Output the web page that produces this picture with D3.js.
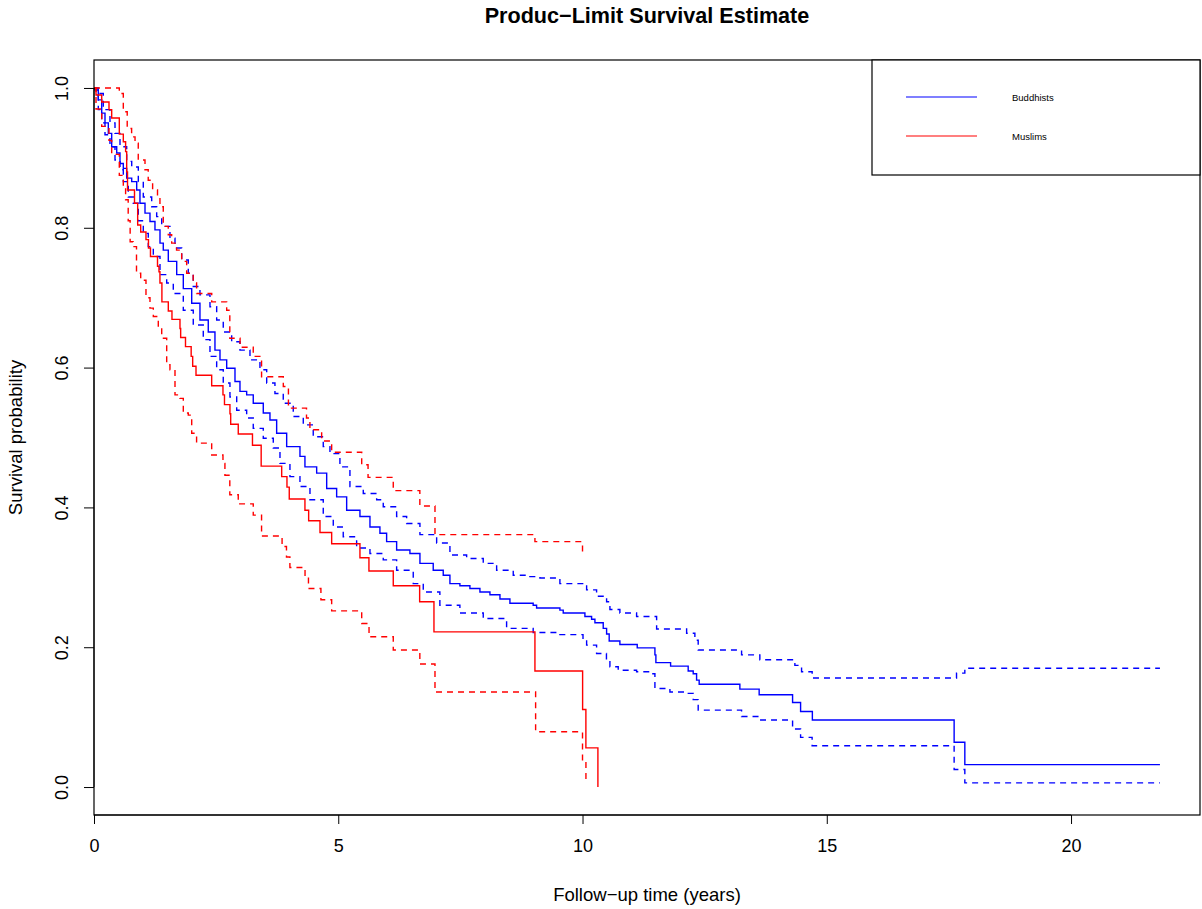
<!DOCTYPE html>
<html>
<head>
<meta charset="utf-8">
<script src="https://cdnjs.cloudflare.com/ajax/libs/d3/7.8.5/d3.min.js"></script>
<style>
  body { margin: 0; background: #fff; }
  text { font-family: "Liberation Sans", Arial, Helvetica, sans-serif; fill: #000; }
</style>
</head>
<body>
<svg class="km_svg" width="1202" height="909"></svg>
<script>
// Buddhists: Kaplan-Meier estimate + 95% limits (time in years)
var budTime = [0, 0.02, 0.088, 0.158, 0.225, 0.293, 0.362, 0.465, 0.532, 0.600,
  0.669, 0.772, 0.874, 0.941, 1.044, 1.146, 1.248, 1.351, 1.418, 1.521,
  1.693, 1.828, 2.0, 2.169, 2.339, 2.476, 2.579, 2.716, 2.886, 2.988,
  3.125, 3.26, 3.465, 3.602, 3.739, 3.944, 4.216, 4.318, 4.558, 4.763,
  4.967, 5.172, 5.444, 5.649, 5.853, 5.99, 6.195, 6.467, 6.672, 6.944,
  7.149, 7.286, 7.49, 7.695, 7.9, 8.105, 8.31, 8.514, 8.99, 9.06,
  9.537, 9.605, 10.049, 10.186, 10.254, 10.424, 10.493, 10.546, 10.765, 11.12,
  11.482, 11.502, 11.803, 12.163, 12.266, 12.335, 12.388, 13.221, 13.616, 14.3,
  14.464, 14.705, 17.607, 17.826, 21.82];
var budSurv = [1, .997, .983, .964, .950, .935, .916, .907, .892, .885,
  .871, .866, .854, .835, .821, .809, .797, .778, .768, .752,
  .733, .713, .692, .668, .651, .625, .611, .599, .580, .566,
  .561, .549, .535, .525, .506, .487, .473, .458, .449, .427,
  .415, .396, .387, .372, .363, .351, .339, .334, .320, .310,
  .303, .291, .288, .284, .279, .275, .269, .263, .260, .256,
  .253, .249, .244, .240, .235, .227, .219, .209, .204, .199,
  .189, .178, .173, .166, .162, .153, .147, .140, .132, .121,
  .108, .096, .064, .032, .032];

var budUpTime = [0, 0.055, 0.19, 0.327, 0.43, 0.532, 0.669, 0.772, 0.907, 1.009,
  1.181, 1.283, 1.386, 1.555, 1.658, 1.795, 1.93, 2.032, 2.169, 2.374,
  2.511, 2.646, 2.818, 2.988, 3.193, 3.397, 3.535, 3.704, 3.874, 4.079,
  4.284, 4.488, 4.693, 4.83, 5.034, 5.239, 5.512, 5.786, 5.921, 6.195,
  6.4, 6.672, 7.014, 7.286, 7.628, 7.968, 8.242, 8.582, 8.923, 9.128,
  9.537, 10.084, 10.288, 10.493, 10.561, 10.765, 11.107, 11.517, 12.131, 12.3,
  12.368, 13.256, 13.63, 14.347, 14.484, 14.701, 17.656, 17.826, 21.82];
var budUp = [1, .992, .969, .950, .935, .916, .895, .887, .866, .844,
  .830, .816, .802, .785, .771, .754, .735, .716, .704, .687,
  .668, .651, .637, .625, .611, .597, .578, .563, .549, .530,
  .518, .501, .487, .477, .458, .430, .420, .411, .401, .387,
  .377, .361, .349, .332, .327, .320, .310, .303, .301, .299,
  .291, .282, .273, .265, .254, .249, .244, .226, .220, .210,
  .196, .189, .182, .174, .165, .156, .163, .170, .170];

var budLoTime = [0, 0.088, 0.158, 0.225, 0.327, 0.43, 0.532, 0.6, 0.702, 0.804,
  0.907, 1.009, 1.111, 1.214, 1.351, 1.488, 1.623, 1.828, 2.032, 2.237,
  2.374, 2.511, 2.646, 2.783, 2.921, 3.125, 3.26, 3.465, 3.67, 3.807,
  4.011, 4.216, 4.421, 4.693, 4.898, 5.102, 5.376, 5.649, 5.921, 6.195,
  6.535, 6.74, 7.08, 7.49, 7.968, 8.446, 8.99, 9.537, 10.01, 10.084,
  10.288, 10.49, 10.561, 10.731, 11.107, 11.414, 11.482, 11.789, 12.095, 12.266,
  12.368, 13.256, 13.63, 14.3, 14.464, 14.7, 17.607, 17.826, 21.82];
var budLo = [1, .969, .950, .933, .916, .897, .883, .866, .844, .835,
  .810, .792, .773, .759, .733, .721, .706, .682, .661, .640,
  .616, .597, .578, .558, .539, .528, .513, .499, .485, .463,
  .444, .430, .411, .387, .372, .358, .342, .334, .325, .310,
  .291, .279, .260, .249, .241, .227, .221, .218, .211, .203,
  .191, .182, .172, .167, .165, .162, .141, .136, .134, .125,
  .110, .101, .096, .083, .071, .059, .025, .006, .006];

// Muslims
var musTime = [0, 0.041, 0.158, 0.307, 0.362, 0.518, 0.600, 0.647, 0.669, 0.686,
  0.829, 0.894, 0.956, 1.064, 1.115, 1.156, 1.30, 1.33, 1.35, 1.39,
  1.521, 1.596, 1.760, 1.774, 1.873, 1.989, 2.020, 2.088, 2.409, 2.640,
  2.671, 2.783, 2.798, 2.953, 3.244, 3.422, 3.842, 3.950, 3.997, 4.318,
  4.394, 4.626, 4.865, 5.444, 5.628, 6.126, 6.666, 6.959, 9.026, 10.002,
  10.069, 10.315];
var musSurv = [1, .990, .980, .969, .957, .934, .923, .909, .880, .854,
  .835, .804, .794, .783, .771, .759, .745, .737, .721, .694,
  .681, .669, .656, .643, .630, .616, .602, .589, .574, .561,
  .547, .534, .519, .505, .489, .459, .444, .429, .412, .396,
  .381, .364, .348, .328, .309, .288, .265, .222, .166, .111,
  .056, 0];

var musUpTime = [0, 0.518, 0.600, 0.68, 0.77, 0.84, 0.906, 1.044, 1.11, 1.20,
  1.30, 1.35, 1.418, 1.52, 1.59, 1.69, 1.795, 1.897, 1.965, 2.03,
  2.10, 2.41, 2.716, 2.78, 2.99, 3.26, 3.43, 3.875, 3.98, 4.35,
  4.42, 4.66, 4.865, 5.48, 5.61, 6.126, 6.67, 6.98, 9.026, 10.0];
var musUp = [1, .992, .966, .942, .930, .921, .897, .883, .868, .854,
  .845, .830, .802, .790, .778, .768, .752, .735, .733, .721,
  .706, .694, .682, .642, .629, .616, .587, .573, .542, .528,
  .511, .495, .479, .461, .443, .424, .402, .361, .351, .330];

var musLoTime = [0, 0.041, 0.158, 0.307, 0.362, 0.518, 0.600, 0.647, 0.70, 0.74,
  0.80, 0.87, 0.956, 1.064, 1.146, 1.214, 1.316, 1.386, 1.488, 1.555,
  1.658, 1.76, 1.828, 1.93, 2.0, 2.1, 2.409, 2.64, 2.68, 2.78,
  2.953, 3.26, 3.43, 3.85, 3.94, 4.01, 4.32, 4.39, 4.645, 4.865,
  5.48, 5.63, 6.126, 6.67, 6.98, 9.04, 10.0, 10.07];
var musLo = [1, .970, .945, .925, .905, .875, .860, .840, .810, .780,
  .773, .735, .725, .700, .685, .673, .658, .642, .604, .597,
  .561, .556, .535, .532, .506, .492, .475, .463, .446, .418,
  .405, .389, .359, .344, .329, .314, .301, .284, .268, .252,
  .234, .215, .196, .176, .136, .079, .036, .008];

var xTicks = [0, 5, 10, 15, 20];
var yTicks = [0, 0.2, 0.4, 0.6, 0.8, 1.0];
var groups = ["Buddhists", "Muslims"];
var colours = ["#0000ff", "#ff0000"];

var svg = d3.select(".km_svg"),
    box = {left: 94, top: 60, right: 1200, bottom: 815};

var x = d3.scaleLinear().domain([0, 22.64]).range([box.left, box.right]);
var y = d3.scaleLinear().domain([-0.04, 1.04]).range([box.bottom, box.top]);

function zip(t, s) {
  return t.map(function(d, i) { return [d, s[i]]; });
}

var step = d3.line()
    .x(function(d) { return x(d[0]); })
    .y(function(d) { return y(d[1]); })
    .curve(d3.curveStepAfter);

var curves = [
  {pts: zip(budUpTime, budUp), col: colours[0], dash: true},
  {pts: zip(budLoTime, budLo), col: colours[0], dash: true},
  {pts: zip(budTime, budSurv), col: colours[0], dash: false},
  {pts: zip(musUpTime, musUp), col: colours[1], dash: true},
  {pts: zip(musLoTime, musLo), col: colours[1], dash: true},
  {pts: zip(musTime, musSurv), col: colours[1], dash: false}
];

svg.append("g")
  .attr("class", "curves")
  .selectAll("path")
  .data(curves)
  .enter().append("path")
  .attr("d", function(d) { return step(d.pts); })
  .attr("fill", "none")
  .attr("stroke", function(d) { return d.col; })
  .attr("stroke-width", 1.4)
  .attr("stroke-dasharray", function(d) { return d.dash ? "6,5" : null; });

// axes, R style: ticks outside, line spans first..last tick
var xAxis = svg.append("g")
  .attr("transform", "translate(0," + box.bottom + ")")
  .call(d3.axisBottom(x).tickValues(xTicks).tickSize(9).tickPadding(0).tickFormat(d3.format("d")));
xAxis.select(".domain").attr("d", "M" + x(0) + ",0H" + x(20));
xAxis.selectAll("text").attr("y", 37).attr("dy", null).style("font-size", "18px").style("font-family", null);

var yAxis = svg.append("g")
  .attr("transform", "translate(" + box.left + ",0)")
  .call(d3.axisLeft(y).tickValues(yTicks).tickSize(10).tickFormat(d3.format(".1f")));
yAxis.select(".domain").attr("d", "M0," + y(0) + "V" + y(1));
yAxis.selectAll("text")
  .attr("x", null).attr("dy", null)
  .attr("transform", function(d) { return "translate(-26,0) rotate(-90)"; })
  .attr("text-anchor", "middle")
  .style("font-size", "18px").style("font-family", null);
svg.selectAll(".tick line").attr("stroke", "#000");
svg.selectAll(".domain").attr("stroke", "#000");

svg.append("rect")
  .attr("x", box.left).attr("y", box.top)
  .attr("width", box.right - box.left).attr("height", box.bottom - box.top)
  .attr("fill", "none").attr("stroke", "#000").attr("stroke-width", 1.2);

svg.append("text")
  .attr("x", (box.left + box.right) / 2).attr("y", 23)
  .attr("text-anchor", "middle")
  .style("font-size", "21.6px").style("font-weight", "bold")
  .text("Produc\u2212Limit Survival Estimate");

svg.append("text")
  .attr("x", (box.left + box.right) / 2).attr("y", 901)
  .attr("text-anchor", "middle")
  .style("font-size", "18.5px")
  .text("Follow\u2212up time (years)");

svg.append("text")
  .attr("transform", "translate(22," + (box.top + box.bottom) / 2 + ") rotate(-90)")
  .attr("text-anchor", "middle")
  .style("font-size", "18.5px")
  .text("Survival probability");

// legend
var legend = svg.append("g").attr("class", "legend");
legend.append("rect")
  .attr("x", 872).attr("y", box.top)
  .attr("width", box.right - 872).attr("height", 115)
  .attr("fill", "#fff").attr("stroke", "#000").attr("stroke-width", 1.2);

var item = legend.selectAll(".item")
  .data(groups)
  .enter().append("g")
  .attr("class", "item")
  .attr("transform", function(d, i) { return "translate(0," + (97 + i * 39) + ")"; });
item.append("line")
  .attr("x1", 906).attr("x2", 977)
  .attr("stroke", function(d, i) { return colours[i]; })
  .attr("stroke-width", 1.2);
item.append("text")
  .attr("x", 1012).attr("y", 3.5)
  .style("font-size", "9.5px")
  .text(function(d) { return d; });
</script>
</body>
</html>
